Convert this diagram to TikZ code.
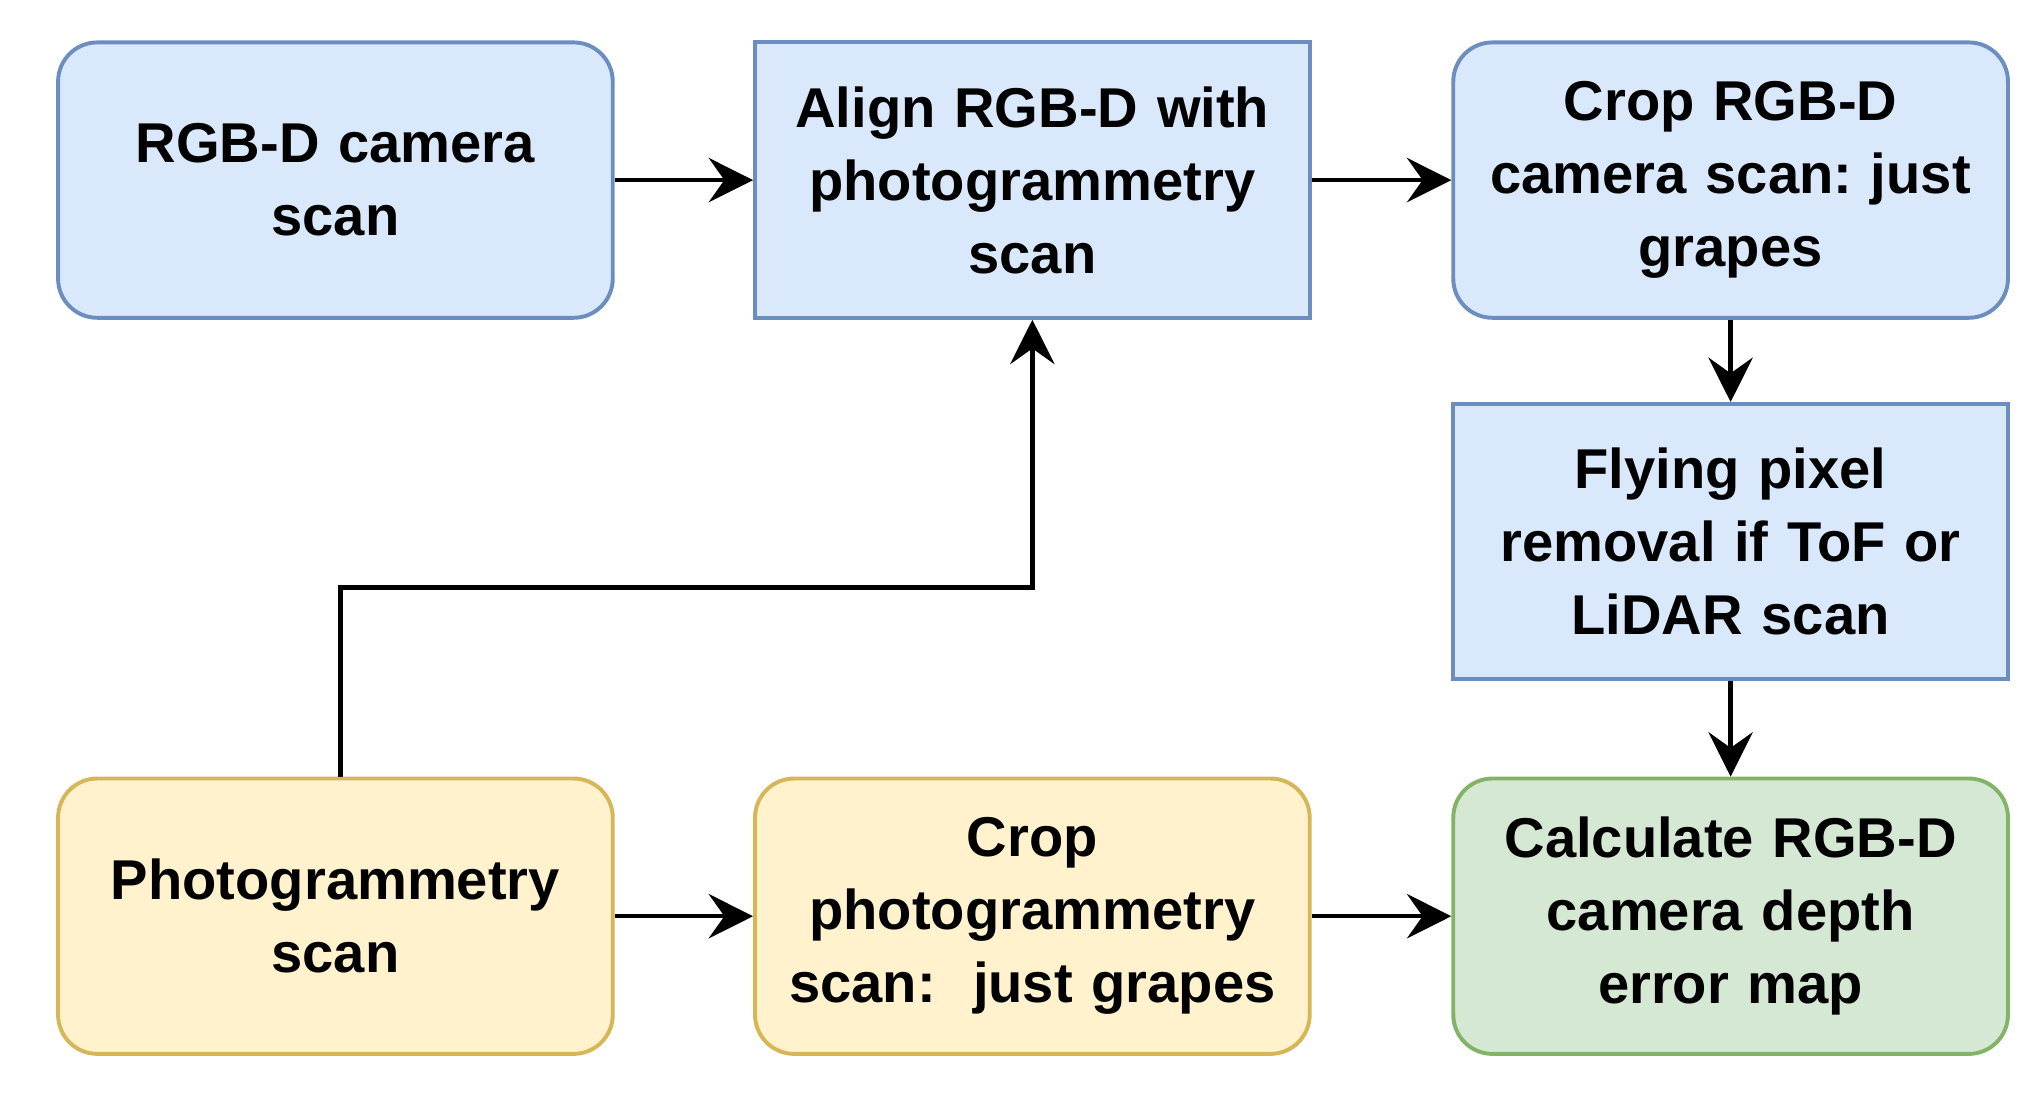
\documentclass[tikz,border=0pt]{standalone}
\usepackage{fontspec}
\setmainfont{Liberation Sans}
\usetikzlibrary{arrows.meta}
\definecolor{bf}{HTML}{DAE8FC}\definecolor{bs}{HTML}{6C8EBF}
\definecolor{yf}{HTML}{FFF2CC}\definecolor{ys}{HTML}{D6B656}
\definecolor{gf}{HTML}{D5E8D4}\definecolor{gs}{HTML}{82B366}
\begin{document}
\frenchspacing
\begin{tikzpicture}[x=1pt,y=-1pt,
 box/.style={draw,line width=3pt,minimum width=425pt,minimum height=211pt,inner sep=0pt,
  align=center,text width=425pt,font=\fontsize{43}{56}\selectfont\bfseries},
 rb/.style={box,rounded corners=30pt},
 blue/.style={fill=bf,draw=bs},yel/.style={fill=yf,draw=ys},grn/.style={fill=gf,draw=gs},
 arr/.style={line width=3.5pt,-{Stealth[length=34pt,width=34pt,inset=12pt]}}]
\useasboundingbox (0,0) rectangle (1560,837);
\node[rb,blue] (A) at (257,138) {RGB-D camera\\scan};
\node[box,blue] (B) at (791,138) {Align RGB-D with\\photogrammetry\\scan};
\node[rb,blue] (C) at (1326,138) {Crop RGB-D\\camera scan: just\\grapes};
\node[box,blue] (D) at (1326,415) {Flying pixel\\removal if ToF or\\LiDAR scan};
\node[rb,yel] (E) at (257,702) {Photogrammetry\\scan};
\node[rb,yel] (F) at (791,702) {Crop\\photogrammetry\\scan:\ \ just grapes};
\node[rb,grn] (G) at (1326,702) {Calculate RGB-D\\camera depth\\error map};
\draw[arr] (A) -- (B);
\draw[arr] (B) -- (C);
\draw[arr] (C) -- (D);
\draw[arr] (D) -- (G);
\draw[arr] (E) -- (F);
\draw[arr] (F) -- (G);
\draw[arr] (E.north -| 261,0) -- (261,450) -- (791,450) -- (B.south);
\end{tikzpicture}
\end{document}
